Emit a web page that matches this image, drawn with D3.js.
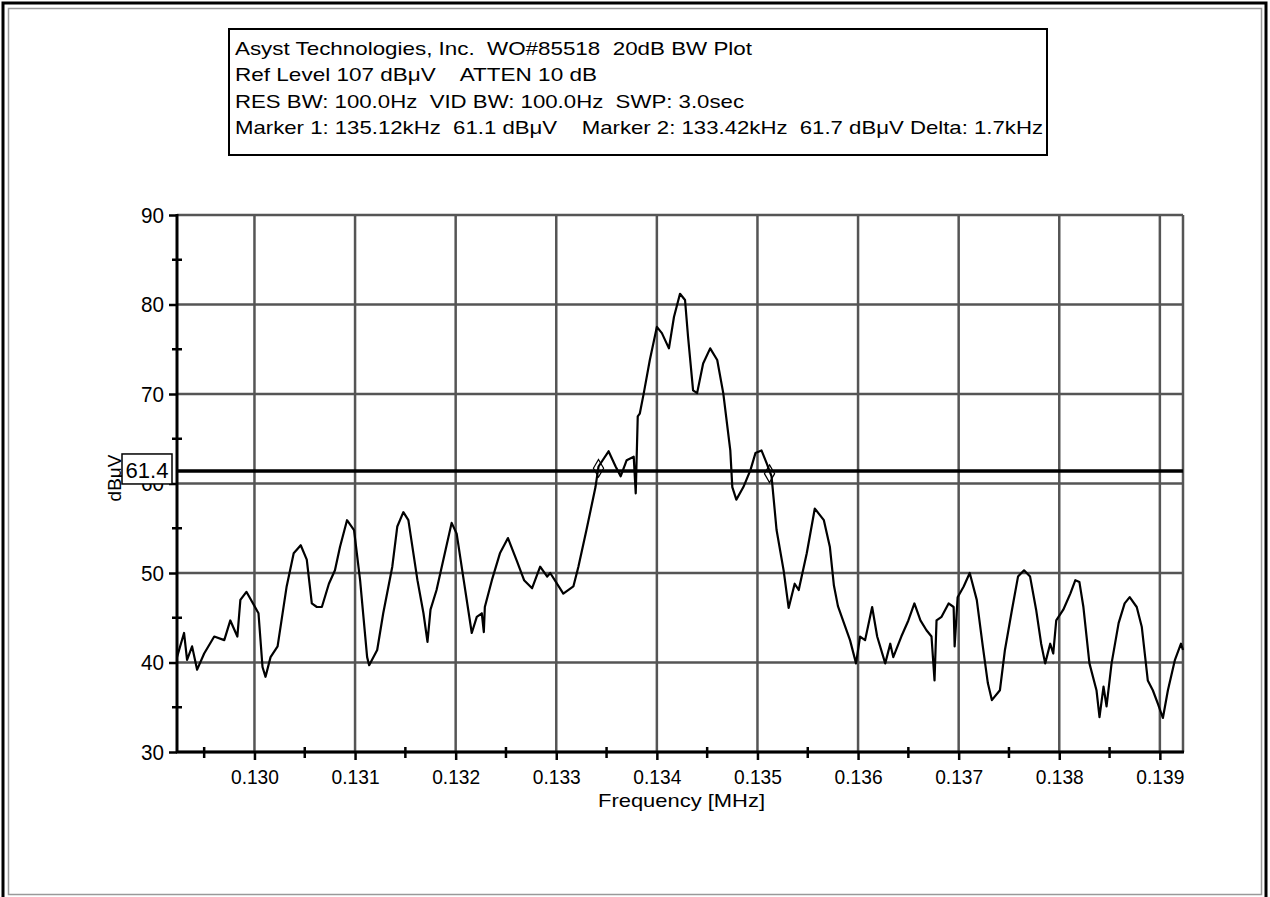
<!DOCTYPE html>
<html>
<head>
<meta charset="utf-8">
<script src="https://cdn.jsdelivr.net/npm/d3@7"></script>
<style>
body { margin: 0; background: #fff; }
svg text { font-family: "Liberation Sans", Arial, sans-serif; fill: #000; }
</style>
</head>
<body>
<svg width="1270" height="897"></svg>
<script>
// trace: frequency in MHz, level in dBuV
var freqs = [0.12923, 0.12930, 0.12933, 0.12938, 0.12943, 0.12950, 0.12960, 0.12970, 0.12976, 0.12983,
    0.12986, 0.12992, 0.13004, 0.13008, 0.13011, 0.13016, 0.13023, 0.13032, 0.13039, 0.13046,
    0.13052, 0.13057, 0.13062, 0.13067, 0.13074, 0.13080, 0.13085, 0.13092, 0.13099, 0.13105,
    0.13112, 0.13114, 0.13122, 0.13128, 0.13137, 0.13142, 0.13148, 0.13153, 0.13162, 0.13168,
    0.13172, 0.13175, 0.13181, 0.13190, 0.13196, 0.13201, 0.13208, 0.13216, 0.13221, 0.13226,
    0.13228, 0.13229, 0.13236, 0.13244, 0.13252, 0.13261, 0.13268, 0.13276, 0.13284, 0.13291,
    0.13294, 0.13307, 0.13317, 0.13322, 0.13330, 0.13339, 0.13342, 0.13352, 0.13359, 0.13364,
    0.13370, 0.13377, 0.13379, 0.13381, 0.13383, 0.13387, 0.13393, 0.13400, 0.13405, 0.13412,
    0.13417, 0.13423, 0.13428, 0.13431, 0.13436, 0.13440, 0.13446, 0.13453, 0.13460, 0.13466,
    0.13473, 0.13475, 0.13479, 0.13486, 0.13493, 0.13498, 0.13504, 0.13509, 0.13514, 0.13519,
    0.13526, 0.13531, 0.13537, 0.13541, 0.13549, 0.13557, 0.13566, 0.13572, 0.13576, 0.13580,
    0.13585, 0.13592, 0.13598, 0.13602, 0.13607, 0.13614, 0.13619, 0.13627, 0.13632, 0.13635,
    0.13643, 0.13650, 0.13656, 0.13662, 0.13668, 0.13673, 0.13676, 0.13678, 0.13683, 0.13690,
    0.13695, 0.13696, 0.13699, 0.13705, 0.13711, 0.13718, 0.13724, 0.13729, 0.13733, 0.13741,
    0.13746, 0.13753, 0.13759, 0.13765, 0.13771, 0.13777, 0.13782, 0.13786, 0.13791, 0.13794,
    0.13797, 0.13804, 0.13811, 0.13816, 0.13820, 0.13824, 0.13830, 0.13837, 0.13840, 0.13844,
    0.13847, 0.13852, 0.13859, 0.13865, 0.13870, 0.13877, 0.13882, 0.13888, 0.13893, 0.13898,
    0.13903, 0.13908, 0.13915, 0.13921, 0.13923];
var levels = [40.6, 43.3, 40.3, 41.8, 39.2, 41.0, 42.9, 42.5, 44.7, 42.9,
    47.0, 47.9, 45.5, 39.5, 38.4, 40.6, 41.8, 48.5, 52.2, 53.1,
    51.5, 46.6, 46.2, 46.2, 48.8, 50.3, 52.9, 55.9, 54.8, 49.2,
    40.6, 39.7, 41.4, 45.5, 50.7, 55.2, 56.8, 55.9, 49.2, 45.5,
    42.3, 45.9, 48.1, 52.6, 55.6, 54.4, 49.2, 43.3, 45.1, 45.5,
    43.4, 46.2, 49.2, 52.2, 53.9, 51.3, 49.2, 48.3, 50.7, 49.6,
    50.0, 47.7, 48.5, 50.7, 54.8, 59.6, 61.9, 63.6, 61.9, 60.8,
    62.6, 63.0, 58.9, 67.5, 67.8, 70.1, 73.8, 77.5, 76.8, 75.1,
    78.6, 81.2, 80.5, 76.4, 70.4, 70.1, 73.4, 75.1, 73.8, 70.1,
    63.7, 59.6, 58.2, 59.6, 61.5, 63.4, 63.7, 62.3, 60.8, 54.8,
    50.3, 46.1, 48.8, 48.1, 52.2, 57.2, 55.9, 52.9, 48.6, 46.3,
    44.7, 42.5, 39.9, 42.9, 42.5, 46.2, 42.9, 39.9, 42.1, 40.6,
    42.9, 44.7, 46.6, 44.7, 43.6, 42.9, 38.0, 44.7, 45.1, 46.6,
    46.2, 41.8, 47.3, 48.5, 50.0, 47.0, 41.8, 37.7, 35.8, 36.9,
    41.4, 45.9, 49.6, 50.3, 49.6, 45.9, 42.1, 39.9, 42.1, 41.0,
    44.7, 45.9, 47.7, 49.2, 49.0, 46.2, 39.9, 36.9, 33.9, 37.3,
    35.1, 39.9, 44.4, 46.6, 47.3, 46.2, 44.0, 38.0, 36.9, 35.4,
    33.8, 36.9, 40.3, 42.1, 41.4];

var yTicks = [30, 40, 50, 60, 70, 80, 90];
var yMinor = [35, 45, 55, 65, 75, 85];
var xTicks = [0.130, 0.131, 0.132, 0.133, 0.134, 0.135, 0.136, 0.137, 0.138, 0.139];
var xMinor = [0.1295, 0.1305, 0.1315, 0.1325, 0.1335, 0.1345, 0.1355, 0.1365, 0.1375, 0.1385];
var refLevel = 61.4;
var markerFreqs = [0.13512, 0.13342];
var markerLevels = [61.1, 61.7];
var infoLines = [
    "Asyst Technologies, Inc.  WO#85518  20dB BW Plot",
    "Ref Level 107 dB\u03bcV    ATTEN 10 dB",
    "RES BW: 100.0Hz  VID BW: 100.0Hz  SWP: 3.0sec",
    "Marker 1: 135.12kHz  61.1 dB\u03bcV    Marker 2: 133.42kHz  61.7 dB\u03bcV Delta: 1.7kHz"
];
var infoWidths = [517, 362, 509, 808];

var svg = d3.select("svg");

// page frame
svg.append("rect").attr("x", 3).attr("y", 3).attr("width", 1263).attr("height", 910)
    .attr("fill", "none").attr("stroke", "#000").attr("stroke-width", 3);
svg.append("rect").attr("x", 8.5).attr("y", 8.5).attr("width", 1253).attr("height", 886)
    .attr("fill", "none").attr("stroke", "#999").attr("stroke-width", 1.5);

var plotLeft = 177, plotRight = 1183, plotTop = 215, plotBottom = 752;
var x = d3.scaleLinear().domain([0.12923, 0.13923]).range([plotLeft, plotRight]);
var y = d3.scaleLinear().domain([30, 90]).range([plotBottom, plotTop]);

var g = svg.append("g");

// grid
g.selectAll(".vgrid").data(xTicks).enter().append("line")
    .attr("x1", d => x(d)).attr("x2", d => x(d))
    .attr("y1", plotTop).attr("y2", plotBottom)
    .attr("stroke", "#555").attr("stroke-width", 2.5);
g.selectAll(".hgrid").data(yTicks).enter().append("line")
    .attr("x1", plotLeft).attr("x2", plotRight)
    .attr("y1", d => y(d)).attr("y2", d => y(d))
    .attr("stroke", "#555").attr("stroke-width", 2.5);
g.append("line").attr("x1", plotRight).attr("x2", plotRight).attr("y1", plotTop).attr("y2", plotBottom)
    .attr("stroke", "#555").attr("stroke-width", 2.5);

// 61.4 reference line
g.append("line").attr("x1", plotLeft).attr("x2", plotRight)
    .attr("y1", y(refLevel)).attr("y2", y(refLevel))
    .attr("stroke", "#000").attr("stroke-width", 3.5);

// trace
var line = d3.line()
    .x(function (d, i) { return x(freqs[i]); })
    .y(function (d) { return y(d); });
g.append("path").datum(levels)
    .attr("d", line)
    .attr("fill", "none").attr("stroke", "#000").attr("stroke-width", 2.2)
    .attr("stroke-linejoin", "round");

// markers
g.selectAll(".mk").data(markerFreqs).enter().append("path")
    .attr("transform", (d, i) => "translate(" + x(d) + "," + y(markerLevels[i]) + ")")
    .attr("d", d3.symbol().type(d3.symbolDiamond).size(90))
    .attr("fill", "none").attr("stroke", "#000").attr("stroke-width", 1.2);

// axes
var yAxis = g.append("g").attr("transform", "translate(" + plotLeft + ",0)")
    .call(d3.axisLeft(y).tickValues(yTicks).tickSize(8).tickPadding(5).tickFormat(d3.format("d")));
yAxis.select(".domain").remove();
yAxis.selectAll(".tick line").attr("stroke", "#000").attr("stroke-width", 2.5);
yAxis.selectAll("text").style("font-size", "22px").attr("textLength", 23).attr("lengthAdjust", "spacingAndGlyphs");

var xAxis = g.append("g").attr("transform", "translate(0," + plotBottom + ")")
    .call(d3.axisBottom(x).tickValues(xTicks).tickSize(8).tickPadding(9).tickFormat(d3.format(".3f")));
xAxis.select(".domain").remove();
xAxis.selectAll(".tick line").attr("stroke", "#000").attr("stroke-width", 2.5);
xAxis.selectAll("text").style("font-size", "21px").attr("textLength", 48).attr("lengthAdjust", "spacingAndGlyphs");

g.selectAll(".ymin").data(yMinor).enter().append("line")
    .attr("x1", plotLeft - 5).attr("x2", plotLeft + 5)
    .attr("y1", d => y(d)).attr("y2", d => y(d))
    .attr("stroke", "#000").attr("stroke-width", 2.5);
g.selectAll(".xmin").data(xMinor).enter().append("line")
    .attr("x1", d => x(d)).attr("x2", d => x(d))
    .attr("y1", plotBottom - 5).attr("y2", plotBottom + 6)
    .attr("stroke", "#000").attr("stroke-width", 2.5);

g.append("line").attr("x1", plotLeft).attr("x2", plotLeft).attr("y1", plotTop - 1).attr("y2", plotBottom + 1)
    .attr("stroke", "#000").attr("stroke-width", 3);
g.append("line").attr("x1", plotLeft - 1).attr("x2", plotRight + 1).attr("y1", plotBottom).attr("y2", plotBottom)
    .attr("stroke", "#000").attr("stroke-width", 3);

// axis titles
g.append("text")
    .attr("x", 598).attr("y", 807)
    .attr("textLength", 167).attr("lengthAdjust", "spacingAndGlyphs")
    .style("font-size", "19px")
    .text("Frequency [MHz]");
g.append("text")
    .attr("transform", "translate(121,478)rotate(-90)")
    .attr("text-anchor", "middle")
    .style("font-size", "19px")
    .text("dB\u03bcV");

// ref level label box
var box = g.append("g").attr("transform", "translate(122," + (y(refLevel) - 17) + ")");
box.append("rect").attr("width", 50).attr("height", 30)
    .attr("fill", "#fff").attr("stroke", "#000").attr("stroke-width", 1.5);
box.append("text").attr("x", 25).attr("y", 24)
    .attr("text-anchor", "middle")
    .attr("textLength", 43).attr("lengthAdjust", "spacingAndGlyphs")
    .style("font-size", "22px")
    .text(refLevel.toFixed(1));

// info box
var info = svg.append("g");
info.append("rect").attr("x", 229).attr("y", 29).attr("width", 818).attr("height", 126)
    .attr("fill", "#fff").attr("stroke", "#000").attr("stroke-width", 2);
info.selectAll("text").data(infoLines).enter().append("text")
    .attr("x", 235)
    .attr("y", (d, i) => 55 + i * 26.3)
    .attr("textLength", (d, i) => infoWidths[i])
    .attr("lengthAdjust", "spacingAndGlyphs")
    .style("white-space", "pre")
    .style("font-size", "19px")
    .text(d => d);
</script>
</body>
</html>
